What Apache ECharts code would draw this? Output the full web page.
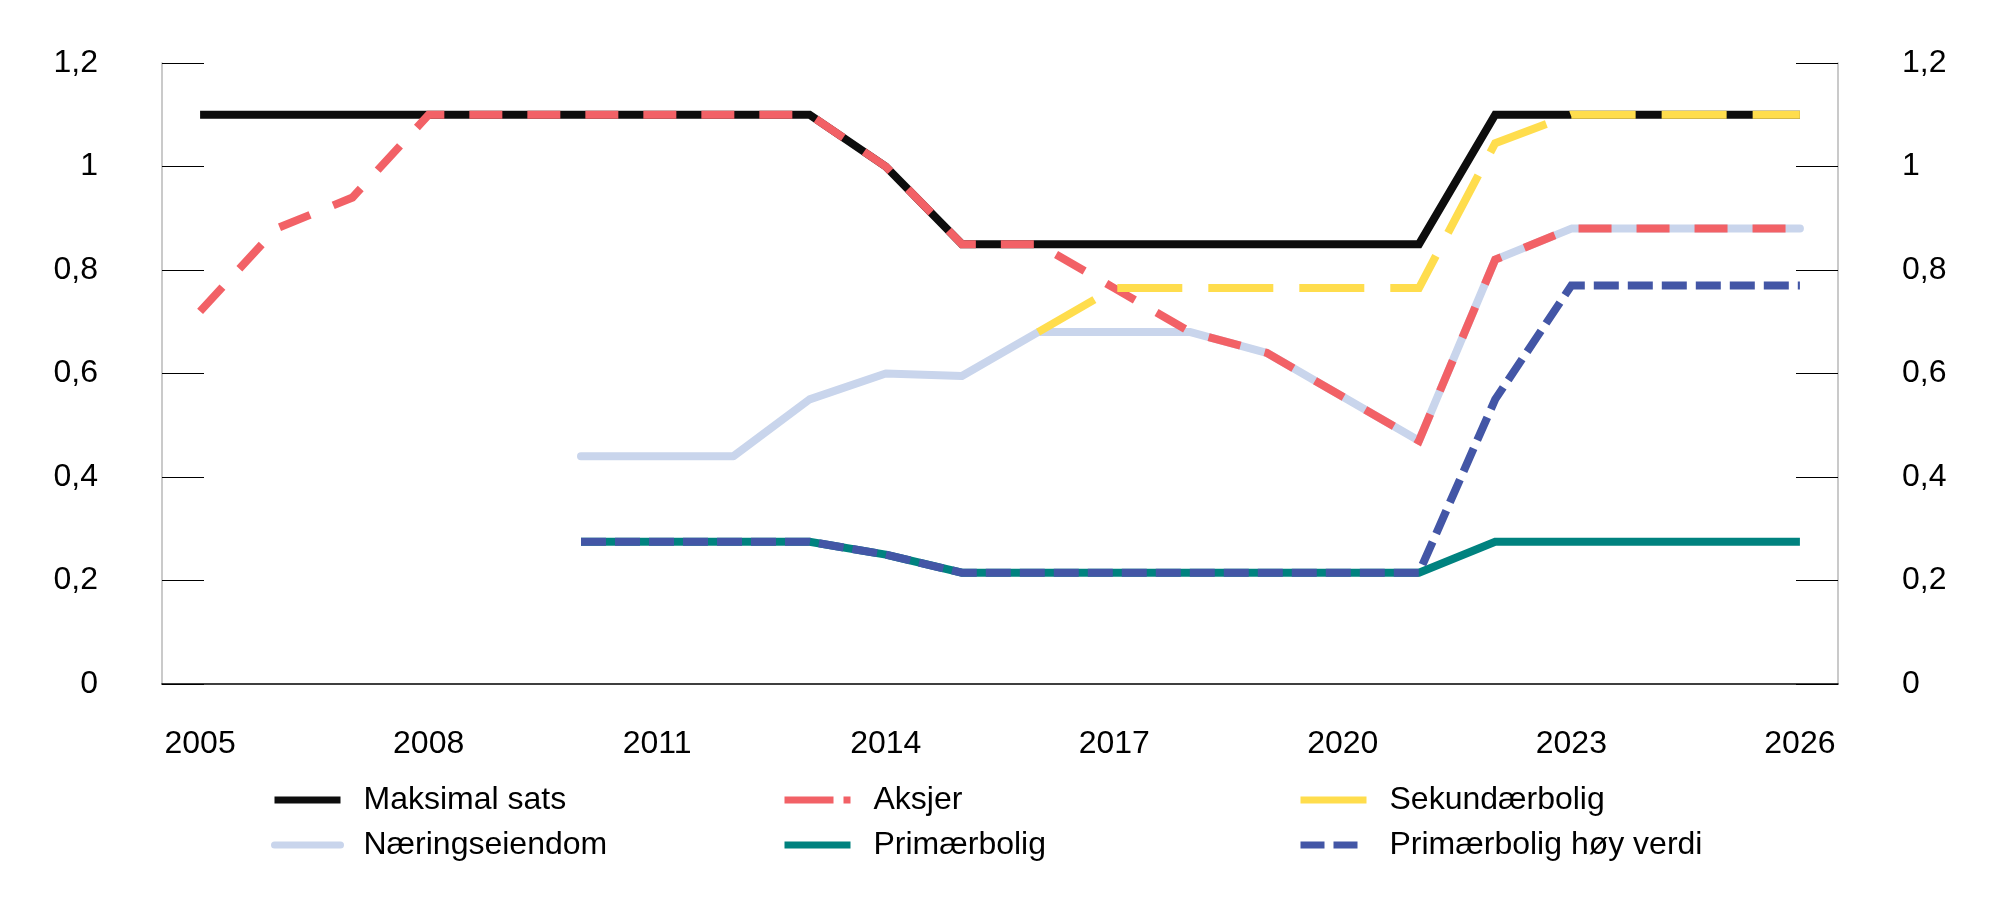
<!DOCTYPE html>
<html>
<head>
<meta charset="utf-8">
<script src="https://cdn.jsdelivr.net/npm/echarts@6/dist/echarts.min.js"></script>
<style>
  html, body { margin: 0; padding: 0; background: #fff; }
  #chart { width: 2000px; height: 908px; }
</style>
</head>
<body>
<div id="chart"></div>
<script>
const years = ['2005', '2006', '2007', '2008', '2009', '2010', '2011', '2012', '2013', '2014', '2015',
  '2016', '2017', '2018', '2019', '2020', '2021', '2022', '2023', '2024', '2025', '2026'];

const maksimalSats = [1.1, 1.1, 1.1, 1.1, 1.1, 1.1, 1.1, 1.1, 1.1, 1.0, 0.85,
  0.85, 0.85, 0.85, 0.85, 0.85, 0.85, 1.1, 1.1, 1.1, 1.1, 1.1];
const aksjer = [0.72, 0.88, 0.94, 1.1, 1.1, 1.1, 1.1, 1.1, 1.1, 1.0, 0.85,
  0.85, 0.765, 0.68, 0.64, 0.555, 0.47, 0.82, 0.88, 0.88, 0.88, 0.88];
const sekundaerbolig = [null, null, null, null, null, null, null, null, null, null, null,
  0.68, 0.765, 0.765, 0.765, 0.765, 0.765, 1.045, 1.1, 1.1, 1.1, 1.1];
const naeringseiendom = [null, null, null, null, null, 0.44, 0.44, 0.44, 0.55, 0.6, 0.595,
  0.68, 0.68, 0.68, 0.64, 0.555, 0.47, 0.82, 0.88, 0.88, 0.88, 0.88];
const primaerbolig = [null, null, null, null, null, 0.275, 0.275, 0.275, 0.275, 0.25, 0.215,
  0.215, 0.215, 0.215, 0.215, 0.215, 0.215, 0.275, 0.275, 0.275, 0.275, 0.275];
const primaerboligHoyVerdi = [null, null, null, null, null, 0.275, 0.275, 0.275, 0.275, 0.25, 0.215,
  0.215, 0.215, 0.215, 0.215, 0.215, 0.215, 0.55, 0.77, 0.77, 0.77, 0.77];

const font = 'Liberation Sans, Arial, Helvetica, sans-serif';

const chart = echarts.init(document.getElementById('chart'));

function yAxis(position) {
  return {
    type: 'value',
    position: position,
    min: 0,
    max: 1.2,
    interval: 0.2,
    axisLine: { show: true, lineStyle: { color: '#b8b8b8', width: 1.5 } },
    axisTick: { show: true, inside: true, length: 42, lineStyle: { color: '#000', width: 1.2 } },
    splitLine: { show: false },
    axisLabel: {
      margin: 64,
      color: '#000',
      fontFamily: font,
      fontSize: 32,
      formatter: v => String(Math.round(v * 10) / 10).replace('.', ',')
    }
  };
}

function line(name, data, color, width, dash, extra) {
  return Object.assign({
    name: name,
    type: 'line',
    data: data,
    symbol: 'none',
    connectNulls: false,
    animation: false,
    lineStyle: { color: color, width: width, type: dash || 'solid', cap: 'butt', join: 'miter' },
    itemStyle: { color: color }
  }, extra || {});
}

const legendBase = {
  orient: 'vertical',
  top: 784,
  padding: 0,
  itemWidth: 66,
  itemHeight: 14,
  itemGap: 13,
  selectedMode: false,
  itemStyle: { opacity: 0 },
  textStyle: { fontFamily: font, fontSize: 32, color: '#000', padding: [0, 0, 0, 18] }
};

chart.setOption({
  backgroundColor: '#fff',
  animation: false,
  grid: { left: 162, right: 162, top: 63, bottom: 224 },
  legend: [
    Object.assign({}, legendBase, {
      left: 271,
      data: [
        { name: 'Maksimal sats', lineStyle: { width: 7, type: 'solid' } },
        { name: 'Næringseiendom', lineStyle: { width: 7, type: 'solid' } }
      ]
    }),
    Object.assign({}, legendBase, {
      left: 781,
      data: [
        { name: 'Aksjer', lineStyle: { width: 7, type: [49, 10] } },
        { name: 'Primærbolig', lineStyle: { width: 7, type: 'solid' } }
      ]
    }),
    Object.assign({}, legendBase, {
      left: 1297,
      data: [
        { name: 'Sekundærbolig', lineStyle: { width: 7, type: 'solid' } },
        { name: 'Primærbolig høy verdi', lineStyle: { width: 7, type: [24, 9, 24, 30] } }
      ]
    })
  ],
  xAxis: {
    type: 'category',
    data: years,
    boundaryGap: true,
    axisLine: { show: true, lineStyle: { color: '#000', width: 1.5 } },
    axisTick: { show: false },
    splitLine: { show: false },
    axisLabel: {
      interval: 2,
      margin: 44,
      color: '#000',
      fontFamily: font,
      fontSize: 32
    }
  },
  yAxis: [yAxis('left'), yAxis('right')],
  series: [
    line('Maksimal sats', maksimalSats, '#0d0d0d', 8),
    line('Næringseiendom', naeringseiendom, '#c9d5ec', 8, 'solid',
      { lineStyle: { color: '#c9d5ec', width: 8, cap: 'round', join: 'round' } }),
    line('Aksjer', aksjer, '#f26166', 8, [33, 25]),
    line('Primærbolig', primaerbolig, '#00827f', 8),
    line('Sekundærbolig', sekundaerbolig, '#ffdd4d', 8, [65, 26]),
    line('Primærbolig høy verdi', primaerboligHoyVerdi, '#4356a6', 8, [25, 9])
  ]
});
</script>
</body>
</html>
